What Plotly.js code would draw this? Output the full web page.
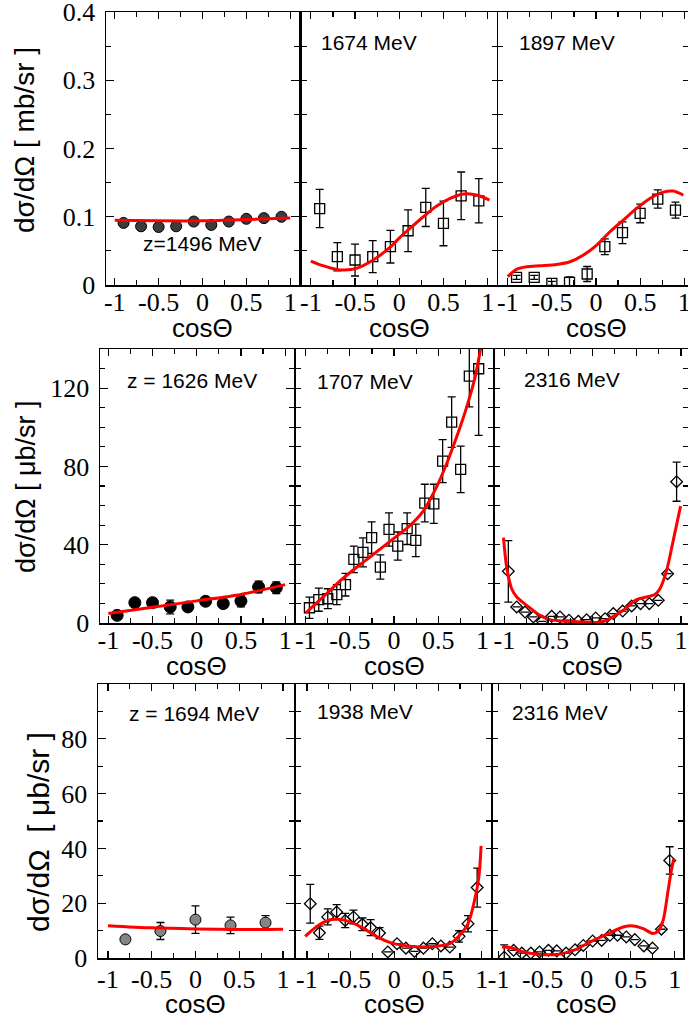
<!DOCTYPE html>
<html><head><meta charset="utf-8">
<script src="https://cdn.plot.ly/plotly-3.0.1.min.js"></script>
<style>html,body{margin:0;padding:0;overflow:hidden;background:#fff}#chart{width:688px;height:1019px}</style>
</head><body><div id="chart"></div>
<script>
// ---------- tick labels ----------
const xTickVals = [-1, -0.5, 0, 0.5, 1];
const xTickText = ['-1', '-0.5', '0', '0.5', '1'];
const yTickVals1 = [0, 0.1, 0.2, 0.3, 0.4];
const yTickText1 = ['0', '0.1', '0.2', '0.3', '0.4'];
const yTickVals2 = [0, 40, 80, 120];
const yTickText2 = ['0', '40', '80', '120'];
const yTickVals3 = [0, 20, 40, 60, 80];
const yTickText3 = ['0', '20', '40', '60', '80'];

// ---------- labels ----------
const yTitles = ['dσ/dΩ [ mb/sr ]', 'dσ/dΩ [ μb/sr ]', 'dσ/dΩ  [ μb/sr ]'];
const xTitle = 'cosΘ';
const panelLabels = ['z=1496 MeV', '1674 MeV', '1897 MeV',
                     'z = 1626 MeV', '1707 MeV', '2316 MeV',
                     'z = 1694 MeV', '1938 MeV', '2316 MeV'];

// ---------- row 1 (mb/sr) ----------
const r1p1X = [-0.9, -0.7, -0.5, -0.3, -0.1, 0.1, 0.3, 0.5, 0.7, 0.9];
const r1p1Y = [0.091, 0.086, 0.085, 0.086, 0.093, 0.088, 0.093, 0.097, 0.098, 0.100];
const r1p1Err = [0.002, 0.002, 0.002, 0.002, 0.002, 0.002, 0.002, 0.002, 0.002, 0.002];
const r1p1CurveX = [-1, -0.5, 0, 0.5, 1];
const r1p1CurveY = [0.095, 0.094, 0.094, 0.096, 0.098];

const r1p2X = [-0.9, -0.7, -0.5, -0.3, -0.1, 0.1, 0.3, 0.5, 0.7, 0.9];
const r1p2Y = [0.112, 0.0415, 0.0366, 0.0415, 0.0561, 0.0795, 0.1137, 0.0902, 0.1307, 0.1234];
const r1p2Err = [0.028, 0.0207, 0.0234, 0.0234, 0.0239, 0.0305, 0.028, 0.0327, 0.0349, 0.0324];
const r1p2CurveX = [-1.0, -0.864, -0.712, -0.617, -0.485, -0.295, -0.106, 0.008, 0.121, 0.273, 0.424, 0.576, 0.727, 0.841, 0.936, 1.02];
const r1p2CurveY = [0.0351, 0.0283, 0.0229, 0.0220, 0.0244, 0.0366, 0.0551, 0.0698, 0.0829, 0.1, 0.1156, 0.1268, 0.1332, 0.1327, 0.1293, 0.1244];

const r1p3X = [-0.9, -0.7, -0.5, -0.3, -0.1, 0.1, 0.3, 0.5, 0.7, 0.9];
const r1p3Y = [0.0112, 0.0112, 0.0024, 0.0039, 0.0161, 0.0561, 0.0766, 0.1049, 0.1259, 0.1098];
const r1p3Err = [0.003, 0.003, 0.003, 0.008, 0.011, 0.0115, 0.016, 0.0137, 0.0134, 0.0117];
const r1p3CurveX = [-1.0, -0.9, -0.785, -0.634, -0.445, -0.294, -0.143, 0.008, 0.158, 0.309, 0.46, 0.611, 0.762, 0.875, 0.989];
const r1p3CurveY = [0.0122, 0.0229, 0.0268, 0.0283, 0.0302, 0.0341, 0.0439, 0.0585, 0.078, 0.0951, 0.1122, 0.1268, 0.1361, 0.1376, 0.1317];

// ---------- row 2 (μb/sr) ----------
const r2p1X = [-0.9, -0.7, -0.5, -0.3, -0.1, 0.1, 0.3, 0.5, 0.7, 0.9];
const r2p1Y = [3.9, 10.4, 10.4, 8.2, 8.2, 11.1, 9.9, 11.2, 18.4, 18.0];
const r2p1Err = [1.5, 2, 2, 3.5, 2, 2, 2, 3, 3, 3];
const r2p1CurveX = [-1, -0.5, 0, 0.5, 1];
const r2p1CurveY = [4.8, 8.0, 11.3, 14.6, 19.6];

const r2p2X = [-0.958, -0.852, -0.75, -0.648, -0.55, -0.455, -0.352, -0.254, -0.155, -0.057, 0.042, 0.148, 0.246, 0.348, 0.45, 0.55, 0.652, 0.754, 0.852, 0.958];
const r2p2Y = [7.8, 11.9, 12.4, 14.5, 19.6, 32.5, 36.1, 43.6, 28.6, 47.8, 39.3, 48.2, 42.2, 61.3, 60.9, 82.7, 102.6, 78.5, 126.1, 129.9];
const r2p2Err = [5.4, 5.9, 5.1, 5.1, 5.8, 6.8, 7.4, 8.1, 6.2, 8.5, 7.2, 8.1, 8.3, 9.6, 10, 11, 12.9, 11.9, 15.7, 34];
const r2p2CurveX = [-1.0, -0.803, -0.614, -0.42, -0.239, 0.0, 0.14, 0.33, 0.48, 0.595, 0.708, 0.822, 0.917, 0.973, 1.0];
const r2p2CurveY = [5.1, 13.3, 21.4, 28.6, 34.9, 43.4, 48.2, 57.2, 69.4, 81.4, 95, 110.3, 125.6, 138.4, 146];

const r2p3X = [-0.955, -0.86, -0.766, -0.672, -0.57, -0.464, -0.37, -0.268, -0.162, -0.068, 0.034, 0.14, 0.234, 0.34, 0.442, 0.543, 0.642, 0.743, 0.849, 0.951];
const r2p3Y = [26.4, 8.2, 5.6, 3.1, 0.85, 3.4, 3.1, 1.4, 0.85, 1.7, 2.6, 2.2, 4.8, 6.1, 8.7, 9.9, 9.9, 11.6, 25.2, 72.2];
const r2p3Err = [15.7, 0, 0, 0, 0, 0, 0, 0, 0, 0, 0, 0, 0, 0, 0, 0, 0, 0, 0, 10];
const r2p3CurveX = [-1.01, -0.974, -0.917, -0.86, -0.747, -0.596, -0.483, -0.294, -0.106, 0.045, 0.158, 0.272, 0.347, 0.498, 0.611, 0.706, 0.762, 0.838, 0.913, 0.996];
const r2p3CurveY = [43.6, 28.6, 17.5, 13.3, 9.0, 3.9, 1.7, 0.85, 0.5, 0.3, 1.4, 4.4, 6.5, 11.9, 13.3, 14.6, 17.5, 26.9, 42.2, 59.7];

// ---------- row 3 (μb/sr) ----------
const r3p1X = [-0.8, -0.4, 0, 0.4, 0.8];
const r3p1Y = [6.8, 9.85, 14.0, 11.9, 12.9];
const r3p1Err = [0, 3.1, 5, 3.0, 2.6];
const r3p1CurveX = [-1, -0.5, 0, 0.5, 1];
const r3p1CurveY = [11.8, 11.0, 10.6, 10.4, 10.5];

const r3p2X = [-0.962, -0.857, -0.762, -0.66, -0.562, -0.468, -0.366, -0.272, -0.17, -0.075, 0.03, 0.132, 0.23, 0.332, 0.434, 0.532, 0.634, 0.74, 0.842, 0.947];
const r3p2Y = [19.8, 9.2, 15.0, 16.8, 13.7, 15.0, 12.3, 11.1, 9.1, 2.2, 5.2, 3.6, 2.4, 3.6, 5.2, 4.4, 4.0, 7.9, 12.5, 25.7];
const r3p2Err = [7.05, 2.4, 2.9, 2.7, 2.6, 2.5, 2.3, 2.9, 2.0, 0, 0, 0, 0, 0, 0, 0, 0, 2.1, 3.0, 7.1];
const r3p2CurveX = [-1.02, -0.894, -0.762, -0.649, -0.498, -0.347, -0.196, -0.045, 0.143, 0.332, 0.483, 0.634, 0.747, 0.842, 0.917, 0.966, 0.992];
const r3p2CurveY = [7.9, 11.3, 13.7, 14.1, 13.1, 10.7, 7.7, 5.6, 4.4, 4.0, 4.3, 5.2, 8.3, 12.5, 21.0, 29.5, 40.9];

const r3p3X = [-0.936, -0.83, -0.736, -0.634, -0.536, -0.434, -0.34, -0.234, -0.132, -0.038, 0.068, 0.17, 0.264, 0.35, 0.45, 0.547, 0.649, 0.747, 0.849, 0.943];
const r3p3Y = [0.3, 2.8, 1.8, 1.8, 2.2, 2.8, 2.6, 1.8, 3.0, 4.6, 6.2, 6.4, 8.3, 8.3, 7.7, 6.7, 4.4, 3.6, 10.5, 35.6];
const r3p3Err = [4.5, 0, 0, 0, 0, 0, 0, 0, 0, 0, 0, 0, 0, 0, 0, 0, 0, 0, 0, 5];
const r3p3CurveX = [-0.962, -0.868, -0.717, -0.528, -0.34, -0.15, 0.038, 0.226, 0.415, 0.528, 0.642, 0.755, 0.811, 0.868, 0.925, 0.962, 0.989];
const r3p3CurveY = [4.0, 3.8, 2.2, 1.3, 1.3, 2.8, 5.8, 8.6, 11.3, 11.7, 10.7, 8.9, 9.8, 13.7, 24.7, 32.0, 36.2];

// ---------- assemble ----------
const W = 688, H = 1019;
const panels = [
  {x: r1p1X, y: r1p1Y, e: r1p1Err, cx: r1p1CurveX, cy: r1p1CurveY, sym: 'circle', fill: '#3c3c3c', size: 11},
  {x: r1p2X, y: r1p2Y, e: r1p2Err, cx: r1p2CurveX, cy: r1p2CurveY, sym: 'square-open', fill: 'black', size: 10},
  {x: r1p3X, y: r1p3Y, e: r1p3Err, cx: r1p3CurveX, cy: r1p3CurveY, sym: 'square-open', fill: 'black', size: 10},
  {x: r2p1X, y: r2p1Y, e: r2p1Err, cx: r2p1CurveX, cy: r2p1CurveY, sym: 'circle', fill: 'black', size: 12},
  {x: r2p2X, y: r2p2Y, e: r2p2Err, cx: r2p2CurveX, cy: r2p2CurveY, sym: 'square-open', fill: 'black', size: 10},
  {x: r2p3X, y: r2p3Y, e: r2p3Err, cx: r2p3CurveX, cy: r2p3CurveY, sym: 'diamond-open', fill: 'black', size: 9},
  {x: r3p1X, y: r3p1Y, e: r3p1Err, cx: r3p1CurveX, cy: r3p1CurveY, sym: 'circle', fill: '#858585', size: 11},
  {x: r3p2X, y: r3p2Y, e: r3p2Err, cx: r3p2CurveX, cy: r3p2CurveY, sym: 'diamond-open', fill: 'black', size: 9},
  {x: r3p3X, y: r3p3Y, e: r3p3Err, cx: r3p3CurveX, cy: r3p3CurveY, sym: 'diamond-open', fill: 'black', size: 9}
];
const rows = [
  {y0: 12, y1: 285, range: [0, 0.4], minor: 0.05, tv: yTickVals1, tt: yTickText1, titleX: 24, titleY: 140, titleSize: 28, xtY: 328, stand: -7,
   cols: [[106, 299, [-1.1, 1.1]], [302, 496.5, [-1.1, 1.1]], [498, 688, [-1.11, 1.042]]],
   labY: [0.0615, 0.355, 0.356], labX: [0, -0.91, -0.89], labAnchor: ['center', 'left', 'left']},
  {y0: 349, y1: 623, range: [0, 140], minor: 10, tv: yTickVals2, tt: yTickText2, titleX: 26, titleY: 487, titleSize: 27, xtY: 666, stand: -7,
   cols: [[100, 294, [-1.094, 1.1]], [296, 493, [-1.11, 1.12]], [495, 688, [-1.106, 1.08]]],
   labY: [124.1, 123.6, 124.6], labX: [-0.807, -0.89, -0.804], labAnchor: ['left', 'left', 'left']},
  {y0: 684, y1: 958, range: [0, 100], minor: 10, tv: yTickVals3, tt: yTickText3, titleX: 38, titleY: 832, titleSize: 30, xtY: 1004, stand: -3,
   cols: [[98, 294, [-1.113, 1.125]], [296, 491, [-1.125, 1.105]], [493, 683, [-1.064, 1.094]]],
   labY: [89.4, 90.1, 89.7], labX: [-0.777, -0.906, -0.868], labAnchor: ['left', 'left', 'left']}
];

const traces = [];
const layout = {
  width: W, height: H, margin: {l: 0, r: 0, t: 0, b: 0},
  paper_bgcolor: 'white', plot_bgcolor: 'white', showlegend: false,
  annotations: []
};
const tickFont = {family: '"Liberation Serif", "Times New Roman", serif', size: 26, color: 'black'};
const sansFont = '"Liberation Sans", Arial, sans-serif';

rows.forEach((row, ri) => {
  layout.annotations.push({
    xref: 'paper', yref: 'paper', x: row.titleX / W, y: 1 - row.titleY / H,
    text: yTitles[ri], textangle: -90, showarrow: false,
    xanchor: 'center', yanchor: 'middle',
    font: {family: sansFont, size: row.titleSize, color: 'black'}
  });
  row.cols.forEach((c, ci) => {
    const k = ri * 3 + ci + 1;
    const xn = k === 1 ? 'x' : 'x' + k, yn = k === 1 ? 'y' : 'y' + k;
    const xa = k === 1 ? 'xaxis' : 'xaxis' + k, ya = k === 1 ? 'yaxis' : 'yaxis' + k;
    const p = panels[k - 1];
    layout[xa] = {
      domain: [c[0] / W, c[1] / W], range: c[2], anchor: yn,
      showline: true, mirror: 'ticks', linecolor: 'black', linewidth: 1.5,
      ticks: 'inside', ticklen: 7, tickwidth: 1.2, tickcolor: 'black',
      tickmode: 'array', tickvals: xTickVals, ticktext: xTickText, tickangle: 0,
      ticklabelstandoff: row.stand, ticklabeloverflow: 'allow',
      tickfont: tickFont, showgrid: false, zeroline: false, fixedrange: true,
      minor: {tickmode: 'linear', tick0: 0, dtick: 0.25, ticks: 'inside', ticklen: 5, tickwidth: 1.2, tickcolor: 'black', showgrid: false}
    };
    layout[ya] = {
      domain: [1 - row.y1 / H, 1 - row.y0 / H], range: row.range, anchor: xn,
      showline: true, mirror: 'ticks', linecolor: 'black', linewidth: 1.5,
      ticks: 'inside', ticklen: 8, tickwidth: 1.2, tickcolor: 'black',
      tickmode: 'array', tickvals: row.tv, ticktext: ci === 0 ? row.tt : row.tv.map(() => ''),
      showticklabels: ci === 0, ticklabelstandoff: 4, ticklabeloverflow: 'allow',
      tickfont: tickFont, showgrid: false, zeroline: false, fixedrange: true,
      minor: {tickmode: 'linear', tick0: 0, dtick: row.minor, ticks: 'inside', ticklen: 5, tickwidth: 1.2, tickcolor: 'black', showgrid: false}
    };
    const isOpen = p.sym.indexOf('open') >= 0;
    traces.push({
      type: 'scatter', mode: 'markers', x: p.x, y: p.y, xaxis: xn, yaxis: yn,
      marker: {symbol: p.sym, size: p.size, color: p.fill, line: {color: 'black', width: isOpen ? 1.3 : 1}},
      error_y: {type: 'data', array: p.e, visible: true, color: 'black', thickness: 1.3, width: 4},
      cliponaxis: true
    });
    traces.push({
      type: 'scatter', mode: 'lines', x: p.cx, y: p.cy, xaxis: xn, yaxis: yn,
      line: {color: '#ff0000', width: 3, shape: 'spline', smoothing: 0.8}
    });
    layout.annotations.push({
      xref: xn, yref: yn, x: row.labX[ci], y: row.labY[ci], text: panelLabels[k - 1],
      showarrow: false, xanchor: row.labAnchor[ci], yanchor: 'middle',
      font: {family: sansFont, size: 21, color: 'black'}
    });
    layout.annotations.push({
      xref: xn, yref: 'paper', x: 0, y: 1 - row.xtY / H, text: xTitle,
      showarrow: false, xanchor: 'center', yanchor: 'middle',
      font: {family: sansFont, size: 26, color: 'black'}
    });
  });
});

Plotly.newPlot('chart', traces, layout, {staticPlot: true, displayModeBar: false});
</script>
</body></html>
